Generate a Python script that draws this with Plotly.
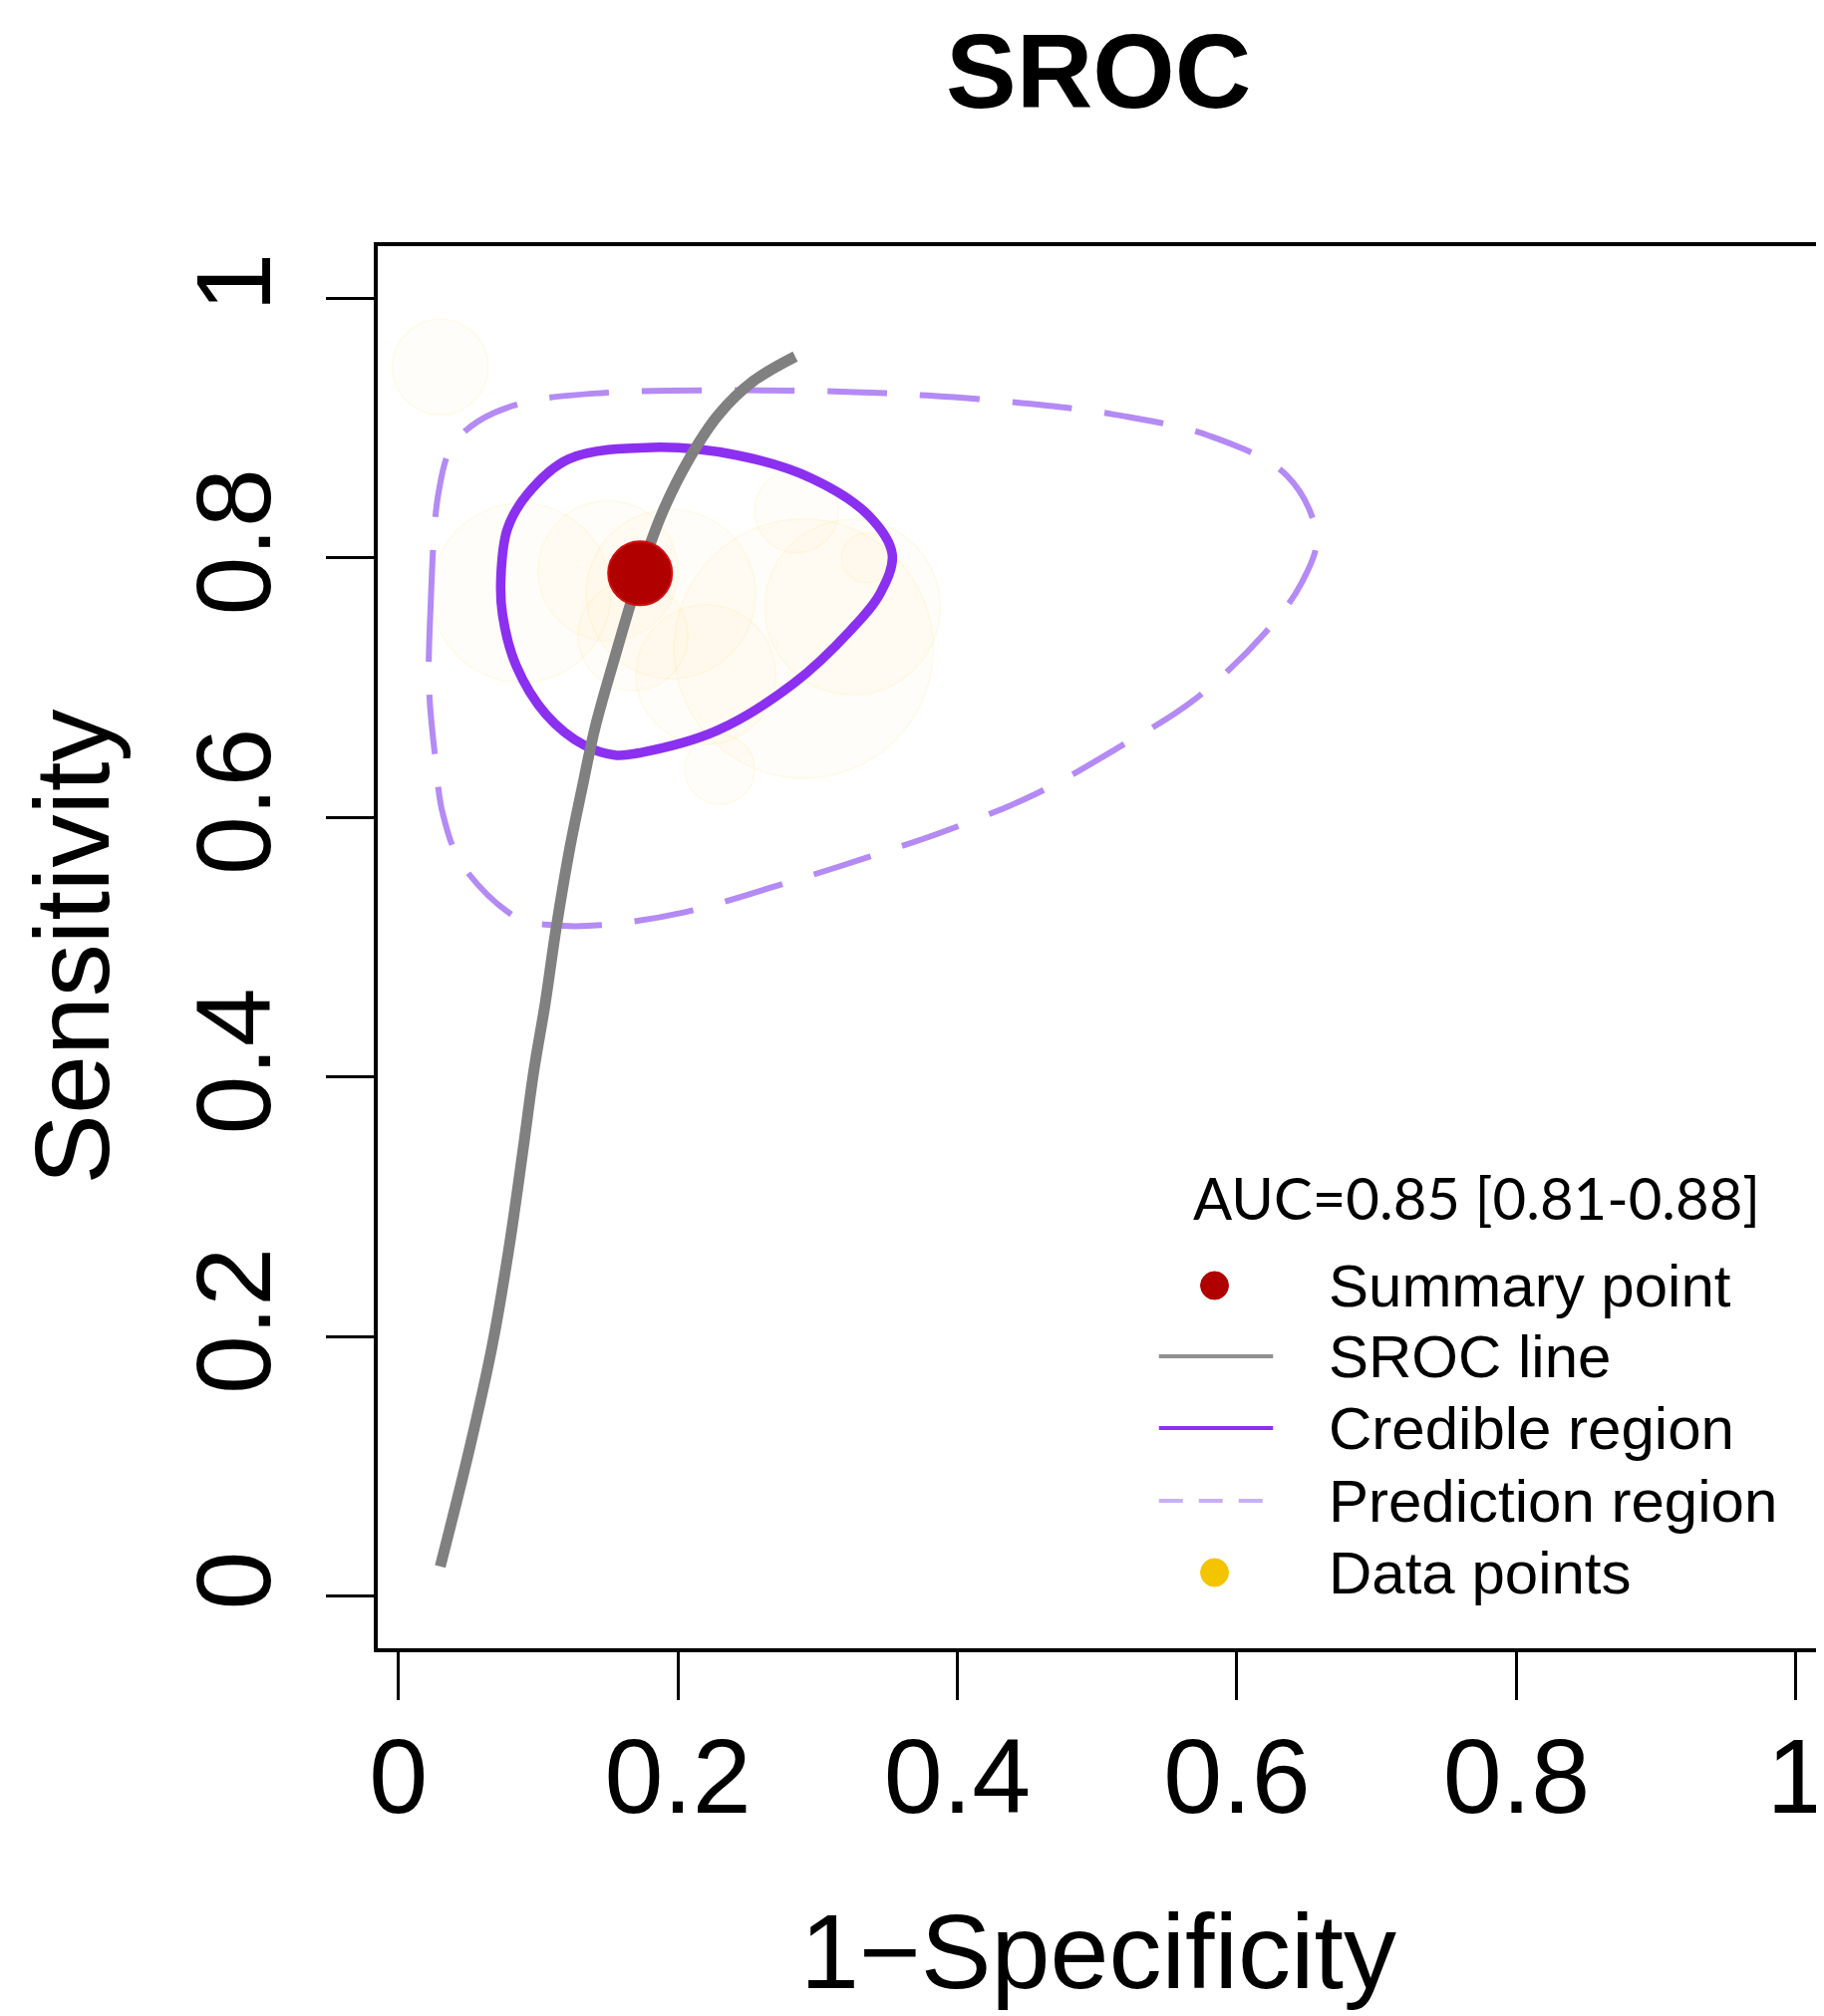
import plotly.graph_objects as go

# --- data ---
# summary point
summary_x = [0.173]
summary_y = [0.788]

# SROC curve
sroc_x = [0.030, 0.051, 0.067, 0.079, 0.089, 0.097, 0.105, 0.113, 0.123, 0.131,
          0.141, 0.154, 0.173, 0.189, 0.208, 0.229, 0.254, 0.284]
sroc_y = [0.023, 0.114, 0.192, 0.267, 0.342, 0.405, 0.456, 0.515, 0.578, 0.620,
          0.670, 0.720, 0.788, 0.835, 0.876, 0.910, 0.936, 0.955]

# credible region (closed)
cred_x = [0.0734, 0.0780, 0.0924, 0.122, 0.182, 0.242, 0.296, 0.337, 0.3534, 0.345,
          0.3235, 0.2827, 0.2284, 0.174, 0.155, 0.1332, 0.106, 0.0843, 0.0746, 0.0734]
cred_y = [0.785, 0.822, 0.849, 0.876, 0.885, 0.879, 0.861, 0.832, 0.8026, 0.773,
          0.744, 0.703, 0.667, 0.650, 0.648, 0.6555, 0.679, 0.717, 0.756, 0.785]

# prediction region (closed)
pred_x = [0.022, 0.023, 0.0286, 0.038, 0.057, 0.092, 0.147, 0.242, 0.316, 0.378,
          0.448, 0.514, 0.580, 0.636, 0.657, 0.646, 0.620, 0.570, 0.514, 0.456,
          0.395, 0.335, 0.276, 0.205, 0.145, 0.110, 0.086, 0.046, 0.032, 0.026, 0.022]
pred_y = [0.700, 0.760, 0.849, 0.885, 0.905, 0.920, 0.927, 0.929, 0.928, 0.925,
          0.919, 0.910, 0.894, 0.863, 0.816, 0.780, 0.742, 0.691, 0.653, 0.618,
          0.591, 0.569, 0.549, 0.527, 0.517, 0.517, 0.522, 0.563, 0.602, 0.650, 0.700]

# individual studies (faint bubbles)
study_x = [0.030, 0.285, 0.230, 0.195, 0.168, 0.088, 0.325, 0.290, 0.335, 0.220, 0.150]
study_y = [0.947, 0.836, 0.637, 0.772, 0.740, 0.773, 0.762, 0.730, 0.800, 0.710, 0.790]
study_weight = [48, 42, 35, 85, 55, 90, 88, 130, 25, 70, 70]

x_ticks = [0, 0.2, 0.4, 0.6, 0.8, 1]
tick_text = ["0", "0.2", "0.4", "0.6", "0.8", "1"]

legend_labels = ["Summary point", "SROC line", "Credible region", "Prediction region", "Data points"]
auc_text = "AUC=0.85 [0.81-0.88]"

FONT = "Liberation Sans, Arial, sans-serif"
W, H = 1830, 2023
L, R, T, B = 371, 1823, 239, 1646


def px_x(px):
    return (px - L) / (R - L)


def px_y(py):
    return (B - py) / (B - T)


fig = go.Figure()

fig.add_trace(go.Scatter(
    x=study_x, y=study_y, mode="markers",
    marker=dict(size=study_weight, sizemode="diameter", sizeref=0.5,
                color="rgba(255,200,70,0.045)",
                line=dict(color="rgba(255,215,90,0.18)", width=1.5)),
    showlegend=False, hoverinfo="skip"))

fig.add_trace(go.Scatter(
    x=pred_x, y=pred_y, mode="lines", line_shape="spline",
    line=dict(color="#B48AF5", width=6, dash="60px,33px"),
    showlegend=False))

fig.add_trace(go.Scatter(
    x=cred_x, y=cred_y, mode="lines", line_shape="spline",
    line=dict(color="#8B30F0", width=9.5),
    showlegend=False))

fig.add_trace(go.Scatter(
    x=sroc_x, y=sroc_y, mode="lines", line_shape="spline",
    line=dict(color="#808080", width=11),
    showlegend=False))

fig.add_trace(go.Scatter(
    x=summary_x, y=summary_y, mode="markers",
    marker=dict(size=64, color="#B00000", line=dict(color="#D01010", width=2)),
    showlegend=False))

# hand-drawn legend, like R's legend()
shapes = []
annotations = []
row_y = [1282, 1353, 1425, 1498, 1570]
sym_cx, line_x0, line_x1, text_x = 1214, 1158, 1273, 1327
dot_r = 14

annotations.append(dict(x=px_x(1190), y=px_y(1193), xref="paper", yref="paper",
                        text=auc_text, showarrow=False, xanchor="left", yanchor="middle",
                        font=dict(family="Lato, Open Sans, sans-serif", size=58, color="black")))
for lab, ry in zip(legend_labels, row_y):
    annotations.append(dict(x=px_x(text_x), y=px_y(ry), xref="paper", yref="paper",
                            text=lab, showarrow=False, xanchor="left", yanchor="middle",
                            font=dict(family=FONT, size=60, color="black")))

for ry, col in [(row_y[0], "#B00000"), (row_y[4], "#F5C400")]:
    shapes.append(dict(type="circle", xref="paper", yref="paper",
                       x0=px_x(sym_cx - dot_r), x1=px_x(sym_cx + dot_r),
                       y0=px_y(ry + dot_r), y1=px_y(ry - dot_r),
                       fillcolor=col, line=dict(color=col, width=1)))
for ry, col, dash in [(row_y[1], "#909090", "solid"),
                      (row_y[2], "#8B30F0", "solid"),
                      (row_y[3], "#C8B0F5", "24px,16px")]:
    shapes.append(dict(type="line", xref="paper", yref="paper",
                       x0=px_x(line_x0), x1=px_x(line_x1), y0=px_y(ry), y1=px_y(ry),
                       line=dict(color=col, width=4, dash=dash)))

# titles
annotations.append(dict(x=0.5, y=px_y(63), xref="paper", yref="paper", text="<b>SROC</b>",
                        showarrow=False, yanchor="middle",
                        font=dict(family=FONT, size=106, color="black")))
annotations.append(dict(x=0.5, y=px_y(1950), xref="paper", yref="paper", text="1\u2212Specificity",
                        showarrow=False, yanchor="middle",
                        font=dict(family=FONT, size=106, color="black")))
annotations.append(dict(x=px_x(62), y=0.5, xref="paper", yref="paper", text="Sensitivity",
                        showarrow=False, textangle=-90, xanchor="center", yanchor="middle",
                        font=dict(family=FONT, size=106, color="black")))

fig.update_xaxes(range=[-0.0147, 1.0165], tickvals=x_ticks, ticktext=tick_text,
                 ticks="outside", ticklen=48, tickwidth=3, tickcolor="black",
                 ticklabelstandoff=-14,
                 showline=True, linewidth=4, linecolor="black", mirror=True,
                 showgrid=False, zeroline=False,
                 tickfont=dict(family=FONT, size=106, color="black"))
fig.update_yaxes(range=[-0.04, 1.04], tickvals=x_ticks, ticktext=tick_text,
                 ticks="outside", ticklen=48, tickwidth=3, tickcolor="black", tickangle=-90,
                 ticklabelstandoff=14,
                 showline=True, linewidth=4, linecolor="black", mirror=True,
                 showgrid=False, zeroline=False,
                 tickfont=dict(family=FONT, size=106, color="black"))

fig.update_layout(width=W, height=H, margin=dict(l=L, r=W - R, t=T, b=H - B),
                  plot_bgcolor="white", paper_bgcolor="white",
                  shapes=shapes, annotations=annotations, showlegend=False)

fig.write_html("out.html")
